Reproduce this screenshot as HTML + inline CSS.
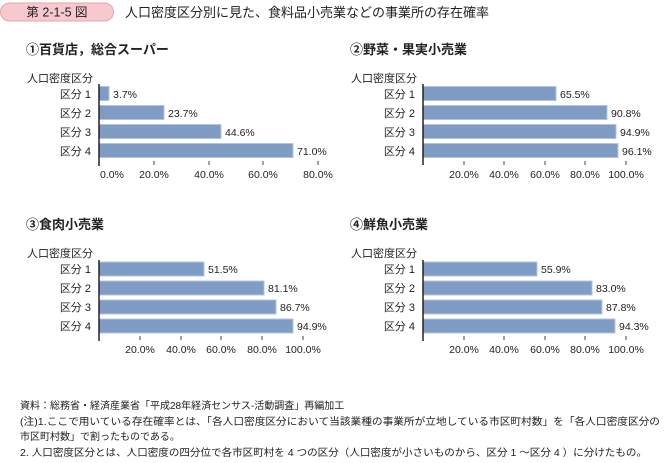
<!DOCTYPE html>
<html><head><meta charset="utf-8"><style>
body{margin:0;background:#fff;}
svg text{font-family:"Liberation Sans","Noto Sans CJK JP",sans-serif;fill:#222;}
.c{font-size:11px;}
.t{font-size:11px;}
.h{font-size:13px;font-weight:bold;}
.n{font-size:10.5px;}
</style></head><body>
<svg width="664" height="458" xmlns="http://www.w3.org/2000/svg">
<rect x="0.5" y="3" width="113" height="18" rx="9" fill="#f7c8ce" stroke="#eaa3ad"/>
<text x="57" y="16.5" text-anchor="middle" style="font-size:12.5px">第 2-1-5 図</text>
<text x="125" y="17" style="font-size:13px">人口密度区分別に見た、食料品小売業などの事業所の存在確率</text>

<g fill="#7f9cc5" stroke="#b3c4dd" stroke-width="1">
<rect x="99" y="86.5" width="10" height="14"/>
<rect x="99" y="105.5" width="65" height="14"/>
<rect x="99" y="124.5" width="122" height="14"/>
<rect x="99" y="143.5" width="194" height="14"/>
<rect x="423" y="86.5" width="133" height="14"/>
<rect x="423" y="105.5" width="184" height="14"/>
<rect x="423" y="124.5" width="193" height="14"/>
<rect x="423" y="143.5" width="195" height="14"/>
<rect x="99" y="262" width="105" height="14"/>
<rect x="99" y="281" width="165" height="14"/>
<rect x="99" y="300" width="177" height="14"/>
<rect x="99" y="319" width="194" height="14"/>
<rect x="423" y="262" width="114" height="14"/>
<rect x="423" y="281" width="169" height="14"/>
<rect x="423" y="300" width="179" height="14"/>
<rect x="423" y="319" width="192" height="14"/>
</g>
<g stroke="#222" stroke-width="1.5">
<line x1="99" y1="84" x2="99" y2="166"/>
<line x1="423" y1="84" x2="423" y2="165"/>
<line x1="99" y1="260" x2="99" y2="341"/>
<line x1="423" y1="260" x2="423" y2="341"/>
</g>
<g stroke="#444" stroke-width="1">
<path d="M154 161v4M209 161v4M263 161v4M318 161v4"/>
<path d="M464 161v4M504 161v4M545 161v4M585 161v4M626 161v4"/>
<path d="M140 336v4M181 336v4M221 336v4M262 336v4M303 336v4"/>
<path d="M464 336v4M504 336v4M545 336v4M585 336v4M626 336v4"/>
</g>

<text class="h" x="26" y="54">①百貨店，総合スーパー</text>
<text class="h" x="350" y="54">②野菜・果実小売業</text>
<text class="h" x="26" y="229">③食肉小売業</text>
<text class="h" x="350" y="229">④鮮魚小売業</text>

<g class="c" text-anchor="end">
<text x="93" y="82">人口密度区分</text>
<text x="91" y="98">区分 1</text><text x="91" y="117">区分 2</text><text x="91" y="136">区分 3</text><text x="91" y="155">区分 4</text>
<text x="417" y="82">人口密度区分</text>
<text x="415" y="98">区分 1</text><text x="415" y="117">区分 2</text><text x="415" y="136">区分 3</text><text x="415" y="155">区分 4</text>
<text x="93" y="257">人口密度区分</text>
<text x="91" y="273">区分 1</text><text x="91" y="292">区分 2</text><text x="91" y="311">区分 3</text><text x="91" y="330">区分 4</text>
<text x="417" y="257">人口密度区分</text>
<text x="415" y="273">区分 1</text><text x="415" y="292">区分 2</text><text x="415" y="311">区分 3</text><text x="415" y="330">区分 4</text>
</g>
<g class="n">
<text x="113" y="98">3.7%</text><text x="168" y="117">23.7%</text><text x="225" y="136">44.6%</text><text x="297" y="155">71.0%</text>
<text x="560" y="98">65.5%</text><text x="611" y="117">90.8%</text><text x="620" y="136">94.9%</text><text x="622" y="155">96.1%</text>
<text x="208" y="273">51.5%</text><text x="268" y="292">81.1%</text><text x="280" y="311">86.7%</text><text x="297" y="330">94.9%</text>
<text x="541" y="273">55.9%</text><text x="596" y="292">83.0%</text><text x="606" y="311">87.8%</text><text x="619" y="330">94.3%</text>
</g>
<g class="n" text-anchor="middle">
<text x="112" y="178">0.0%</text><text x="154" y="178">20.0%</text><text x="209" y="178">40.0%</text><text x="263" y="178">60.0%</text><text x="318" y="178">80.0%</text>
<text x="464" y="178">20.0%</text><text x="504" y="178">40.0%</text><text x="545" y="178">60.0%</text><text x="585" y="178">80.0%</text><text x="626" y="178">100.0%</text>
<text x="140" y="353">20.0%</text><text x="181" y="353">40.0%</text><text x="221" y="353">60.0%</text><text x="262" y="353">80.0%</text><text x="303" y="353">100.0%</text>
<text x="464" y="353">20.0%</text><text x="504" y="353">40.0%</text><text x="545" y="353">60.0%</text><text x="585" y="353">80.0%</text><text x="626" y="353">100.0%</text>
</g>
<g style="font-size:10px">
<text x="20" y="409">資料：総務省・経済産業省「平成28年経済センサス-活動調査」再編加工</text>
<text x="20" y="425" textLength="640" lengthAdjust="spacingAndGlyphs">(注)1.ここで用いている存在確率とは、「各人口密度区分において当該業種の事業所が立地している市区町村数」を「各人口密度区分の</text>
<text x="20" y="440">市区町村数」で割ったものである。</text>
<text x="20" y="456" textLength="627" lengthAdjust="spacingAndGlyphs">2. 人口密度区分とは、人口密度の四分位で各市区町村を 4 つの区分（人口密度が小さいものから、区分 1 ～区分 4 ）に分けたもの。</text>
</g>
</svg>
</body></html>
